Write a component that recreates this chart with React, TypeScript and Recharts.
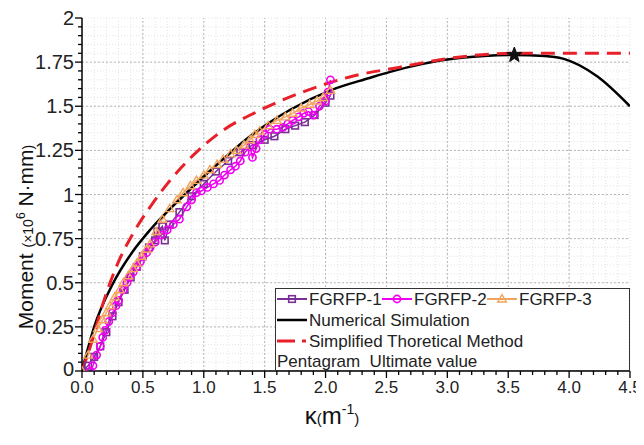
import { ComposedChart, Line, Scatter, XAxis, YAxis, CartesianGrid, ReferenceLine, Legend } from 'recharts';

// axis ticks
const kappaMajor = [0, 0.5, 1.0, 1.5, 2.0, 2.5, 3.0, 3.5, 4.0, 4.5];
const momentMajor = [0, 0.25, 0.5, 0.75, 1, 1.25, 1.5, 1.75, 2];

// [kappa, moment] pairs
const fgrfp1 = [
  [0, 0], [0.05, 0.03], [0.1, 0.08], [0.15, 0.14], [0.2, 0.22], [0.25, 0.31], [0.3, 0.39],
  [0.35, 0.46], [0.4, 0.53], [0.45, 0.59], [0.5, 0.65], [0.55, 0.7], [0.6, 0.74], [0.62, 0.79],
  [0.66, 0.82], [0.68, 0.74], [0.72, 0.83], [0.8, 0.9], [0.9, 0.99], [1.0, 1.06], [1.1, 1.13],
  [1.2, 1.19], [1.3, 1.24], [1.4, 1.28], [1.5, 1.31], [1.58, 1.33], [1.67, 1.37], [1.75, 1.39],
  [1.83, 1.41], [1.91, 1.45], [2.0, 1.52], [2.04, 1.56],
];
const fgrfp2 = [
  [0.07, 0], [0.09, 0.03], [0.12, 0.09], [0.15, 0.14], [0.17, 0.19], [0.19, 0.23], [0.22, 0.28],
  [0.25, 0.33], [0.28, 0.37], [0.3, 0.4], [0.34, 0.46], [0.37, 0.5], [0.39, 0.53], [0.42, 0.56],
  [0.45, 0.59], [0.48, 0.62], [0.5, 0.65], [0.53, 0.67], [0.56, 0.7], [0.6, 0.73], [0.65, 0.77],
  [0.7, 0.8], [0.75, 0.83], [0.8, 0.86], [0.86, 0.93], [0.9, 0.97], [0.94, 1.01], [0.98, 1.02],
  [1.03, 1.04], [1.08, 1.06], [1.13, 1.08], [1.17, 1.11], [1.22, 1.14], [1.26, 1.16], [1.3, 1.19],
  [1.34, 1.24], [1.38, 1.27], [1.4, 1.21], [1.43, 1.26], [1.46, 1.31], [1.5, 1.34], [1.54, 1.37],
  [1.6, 1.37], [1.65, 1.38], [1.69, 1.4], [1.73, 1.42], [1.78, 1.44], [1.82, 1.46], [1.86, 1.47],
  [1.9, 1.45], [1.95, 1.5], [2.0, 1.53], [2.02, 1.58], [2.04, 1.65],
];
const fgrfp3 = [
  [0, 0], [0.05, 0.09], [0.09, 0.18], [0.13, 0.24], [0.17, 0.29], [0.2, 0.33], [0.23, 0.37],
  [0.27, 0.42], [0.31, 0.46], [0.34, 0.5], [0.38, 0.54], [0.42, 0.58], [0.45, 0.61], [0.49, 0.65],
  [0.53, 0.69], [0.56, 0.72], [0.61, 0.79], [0.66, 0.86], [0.72, 0.92], [0.78, 0.97], [0.83, 1.01],
  [0.89, 1.05], [0.94, 1.08], [1.0, 1.11], [1.05, 1.14], [1.11, 1.17], [1.16, 1.2], [1.22, 1.23],
  [1.27, 1.25], [1.33, 1.28], [1.38, 1.31], [1.42, 1.34], [1.46, 1.36], [1.53, 1.39], [1.6, 1.42],
  [1.67, 1.44], [1.73, 1.46], [1.8, 1.49], [1.87, 1.51], [1.93, 1.53], [1.98, 1.55], [2.04, 1.59],
];
const numerical = [
  [0, 0], [0.03, 0.08], [0.1, 0.25], [0.25, 0.49], [0.42, 0.68], [0.56, 0.8], [0.83, 0.99],
  [1.11, 1.17], [1.38, 1.33], [1.71, 1.48], [2.04, 1.59], [2.36, 1.66], [2.53, 1.695], [2.8, 1.74],
  [3.0, 1.765], [3.3, 1.785], [3.54, 1.79], [3.8, 1.785], [3.95, 1.77], [4.23, 1.67], [4.5, 1.5],
];
const simplified = [
  [0, 0], [0.06, 0.12], [0.19, 0.42], [0.3, 0.62], [0.42, 0.78], [0.56, 0.93], [0.7, 1.06],
  [0.91, 1.22], [1.13, 1.35], [1.44, 1.47], [1.81, 1.58], [2.22, 1.67], [2.6, 1.72], [3.0, 1.77],
  [3.55, 1.8], [4.5, 1.8],
];
const ultimate = [[3.55, 1.79]];

const toPts = (arr: number[][]) => arr.map(([k, m]) => ({ k, m }));

const FONT = '"Liberation Sans", Arial, sans-serif';

const minorOf = (major: number[], n: number) =>
  major.flatMap((v, i) =>
    i === 0 ? [v] : Array.from({ length: n }, (_, j) => +(major[i - 1] + ((v - major[i - 1]) * (j + 1)) / n).toFixed(3))
  );
const kappaTicks = minorOf(kappaMajor, 5);
const momentTicks = minorOf(momentMajor, 5);
const isMajor = (v: number, majors: number[]) => majors.some((m) => Math.abs(m - v) < 1e-6);

const drawMarker = (shape: string, color: string, cx: number, cy: number, key?: any) => {
  if (shape === 'square')
    return <rect key={key} x={cx - 3.3} y={cy - 3.3} width={6.6} height={6.6} fill="none" stroke={color} strokeWidth={1.6} />;
  if (shape === 'triangle')
    return (
      <polygon key={key} points={`${cx},${cy - 4.3} ${cx - 4.3},${cy + 3} ${cx + 4.3},${cy + 3}`} fill="none" stroke={color} strokeWidth={1.4} />
    );
  return <circle key={key} cx={cx} cy={cy} r={3.6} fill="none" stroke={color} strokeWidth={1.6} />;
};

const experiments = [
  { name: 'FGRFP-1', color: '#7a2f96', shape: 'square', data: fgrfp1 },
  { name: 'FGRFP-2', color: '#f000f0', shape: 'circle', data: fgrfp2 },
  { name: 'FGRFP-3', color: '#f2a45e', shape: 'triangle', data: fgrfp3 },
];

const BottomTick = (p: any) => {
  const { x, y, payload } = p;
  const major = isMajor(payload.value, kappaMajor);
  return (
    <g>
      <line x1={x} x2={x} y1={y} y2={y + (major ? 7 : 4)} stroke="#000" strokeWidth={1.3} />
      {major && (
        <text x={x} y={y + 22} textAnchor="middle" fontSize={17} fill="#222" fontFamily={FONT}>
          {payload.value.toFixed(1)}
        </text>
      )}
    </g>
  );
};
const TopTick = (p: any) => {
  const { x, y, payload } = p;
  const major = isMajor(payload.value, kappaMajor);
  return <line x1={x} x2={x} y1={y} y2={y + (major ? 7 : 4)} stroke="#000" strokeWidth={1.3} />;
};
const LeftTick = (p: any) => {
  const { x, y, payload } = p;
  const major = isMajor(payload.value, momentMajor);
  return (
    <g>
      <line x1={x - (major ? 7 : 4)} x2={x} y1={y} y2={y} stroke="#000" strokeWidth={1.3} />
      {major && (
        <text x={x - 8} y={y - (payload.value === 0 ? 2 : 0)} dy="0.35em" textAnchor="end" fontSize={20} fill="#222" fontFamily={FONT}>
          {payload.value}
        </text>
      )}
    </g>
  );
};
const RightTick = (p: any) => {
  const { x, y, payload } = p;
  const major = isMajor(payload.value, momentMajor);
  return <line x1={x - (major ? 7 : 4)} x2={x} y1={y} y2={y} stroke="#000" strokeWidth={1.3} />;
};

const Star = (p: any) => {
  const { cx, cy } = p;
  const pts: string[] = [];
  for (let i = 0; i < 10; i++) {
    const r = i % 2 === 0 ? 8 : 3.4;
    const a = -Math.PI / 2 + (i * Math.PI) / 5;
    pts.push(`${cx + r * Math.cos(a)},${cy + r * Math.sin(a)}`);
  }
  return <polygon points={pts.join(' ')} fill="#111" stroke="#111" />;
};

const LegendBox = () => {
  const rowY = [11, 32, 53, 73];
  const textProps = { fontSize: 17, fill: '#222', fontFamily: FONT, dy: '0.35em' };
  const slots = [2, 107, 212];
  return (
    <svg width={355} height={83} style={{ display: 'block' }}>
      <rect x={0.5} y={0.5} width={354} height={82} fill="#fff" stroke="#333" strokeWidth={1} />
      {experiments.map((s, i) => (
        <g key={s.name}>
          <line x1={slots[i]} x2={slots[i] + 30} y1={rowY[0]} y2={rowY[0]} stroke={s.color} strokeWidth={2} />
          {drawMarker(s.shape, s.color, slots[i] + 15, rowY[0])}
          <text x={slots[i] + 32} y={rowY[0]} {...textProps}>{s.name}</text>
        </g>
      ))}
      <line x1={2} x2={32} y1={rowY[1]} y2={rowY[1]} stroke="#000" strokeWidth={2.5} />
      <text x={34} y={rowY[1]} {...textProps}>Numerical Simulation</text>
      <line x1={2} x2={32} y1={rowY[2]} y2={rowY[2]} stroke="#e8202a" strokeWidth={3} strokeDasharray="18 7 4 20" />
      <text x={34} y={rowY[2]} {...textProps}>Simplified Thoretical Method</text>
      <text x={2} y={rowY[3]} {...textProps}>{'Pentagram\u00a0\u00a0Ultimate value'}</text>
    </svg>
  );
};

const YLabel = () => (
  <text transform="translate(25,229) rotate(-90)" textAnchor="middle" fontFamily={FONT} fill="#111">
    <tspan fontSize={21}>Moment </tspan>
    <tspan fontSize={14}>(×10</tspan>
    <tspan fontSize={12} dy={-8}>6</tspan>
    <tspan fontSize={21} dy={8}> N·mm</tspan>
    <tspan fontSize={14}>)</tspan>
  </text>
);

const XLabel = () => (
  <text x={324} y={416} textAnchor="middle" fontFamily={FONT} fill="#111">
    <tspan fontSize={24}>κ</tspan>
    <tspan fontSize={15}>(</tspan>
    <tspan fontSize={24}>m</tspan>
    <tspan fontSize={14} dy={-10}>-1</tspan>
    <tspan fontSize={15} dy={10}>)</tspan>
  </text>
);

export default function App() {
  return (
    <div style={{ width: 636, height: 437, position: 'relative' }}>
      <ComposedChart width={636} height={437} margin={{ top: 10, right: 14, bottom: 0, left: 0 }}>
        <CartesianGrid stroke="#e4e4e4" strokeDasharray="1 2" />
        <XAxis
          xAxisId={0}
          type="number"
          dataKey="k"
          domain={[0, 4.5]}
          ticks={kappaTicks}
          interval={0}
          allowDataOverflow
          height={74}
          tickSize={0}
          tickMargin={0}
          tickLine={false}
          tick={<BottomTick />}
          axisLine={{ stroke: '#000', strokeWidth: 1.5 }}
          label={<XLabel />}
        />
        <XAxis
          xAxisId="top"
          orientation="top"
          type="number"
          dataKey="k"
          domain={[0, 4.5]}
          ticks={kappaTicks}
          interval={0}
          allowDataOverflow
          height={0}
          tickSize={0}
          tickMargin={0}
          tickLine={false}
          tick={<TopTick />}
          axisLine={{ stroke: '#000', strokeWidth: 1.5 }}
        />
        <YAxis
          yAxisId={0}
          type="number"
          domain={[0, 2]}
          ticks={momentTicks}
          interval={0}
          allowDataOverflow
          width={74}
          tickSize={0}
          tickMargin={0}
          tickLine={false}
          tick={<LeftTick />}
          axisLine={{ stroke: '#000', strokeWidth: 1.5 }}
          label={<YLabel />}
        />
        <YAxis
          yAxisId="right"
          orientation="right"
          type="number"
          domain={[0, 2]}
          ticks={momentTicks}
          interval={0}
          allowDataOverflow
          width={0}
          tickSize={0}
          tickMargin={0}
          tickLine={false}
          tick={<RightTick />}
          axisLine={{ stroke: '#000', strokeWidth: 1.5 }}
        />
        {kappaMajor.slice(1, -1).map((v) => (
          <ReferenceLine key={'vx' + v} x={v} stroke="#b8b8b8" strokeDasharray="2 2" />
        ))}
        {momentMajor.slice(1, -1).map((v) => (
          <ReferenceLine key={'hy' + v} y={v} stroke="#b8b8b8" strokeDasharray="2 2" />
        ))}
        {experiments.map((s) => (
          <Line
            key={s.name}
            name={s.name}
            data={toPts(s.data)}
            dataKey="m"
            type="linear"
            stroke={s.color}
            strokeWidth={1.5}
            dot={(p: any) => drawMarker(s.shape, s.color, p.cx, p.cy, p.index)}
            activeDot={false}
            isAnimationActive={false}
          />
        ))}
        <Line
          name="Numerical Simulation"
          data={toPts(numerical)}
          dataKey="m"
          type="monotone"
          stroke="#000"
          strokeWidth={2.5}
          dot={false}
          activeDot={false}
          isAnimationActive={false}
        />
        <Line
          name="Simplified Thoretical Method"
          data={toPts(simplified)}
          dataKey="m"
          type="monotone"
          stroke="#e8202a"
          strokeWidth={3}
          strokeDasharray="14 8"
          dot={false}
          activeDot={false}
          isAnimationActive={false}
        />
        <Scatter
          name="Ultimate value"
          data={toPts(ultimate)}
          dataKey="m"
          xAxisId="top"
          yAxisId="right"
          shape={<Star />}
          isAnimationActive={false}
        />
        <Legend
          layout="horizontal"
          verticalAlign="middle"
          align="center"
          content={() => <LegendBox />}
          wrapperStyle={{ left: 267, top: 280, width: 355, height: 83 }}
        />
      </ComposedChart>
    </div>
  );
}
